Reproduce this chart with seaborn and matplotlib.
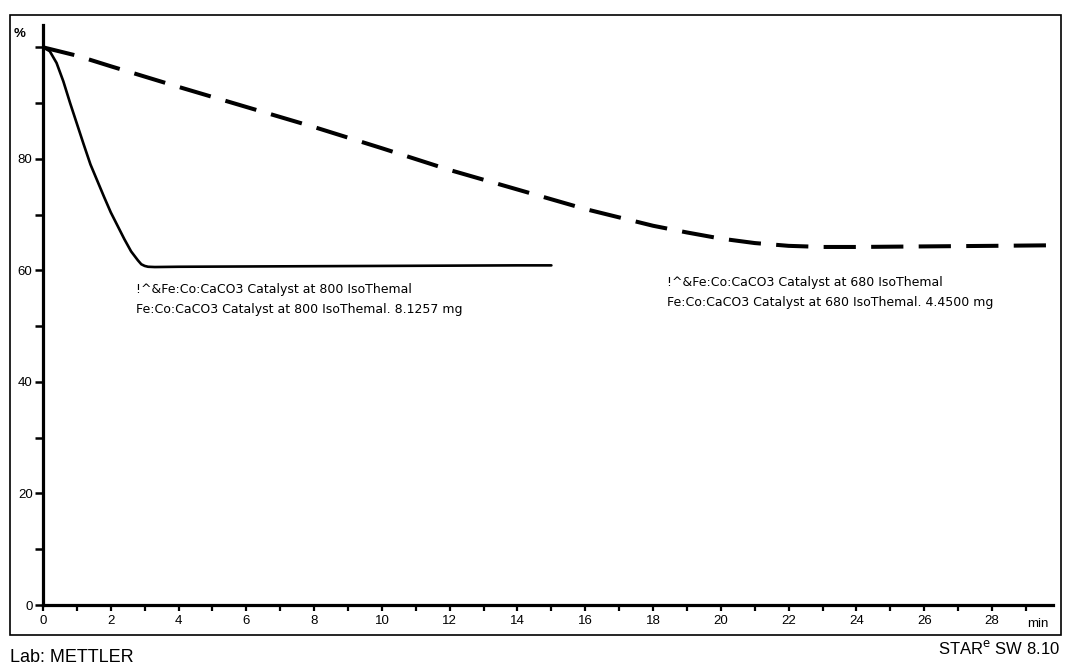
import matplotlib
matplotlib.use("Agg")
import matplotlib.pyplot as plt
from matplotlib.patches import Rectangle
from matplotlib.ticker import MultipleLocator, FixedLocator, NullFormatter
import seaborn as sns
import pandas as pd

# Isothermal TGA runs: sample mass (%) versus time (min)
time_800 = [0.0, 0.2, 0.4, 0.6, 0.8, 1.0, 1.2, 1.4, 1.6, 1.8, 2.0, 2.2, 2.4, 2.6, 2.7, 2.8,
            2.9, 3.0, 3.1, 3.3, 4.0, 6.0, 8.0, 10.0, 12.0, 14.0, 15.0]
mass_800 = [100.0, 99.3, 97.2, 93.9, 90.0, 86.3, 82.6, 79.0, 76.1, 73.2, 70.4, 68.0, 65.6, 63.4,
            62.6, 61.8, 61.1, 60.8, 60.65, 60.6, 60.65, 60.7, 60.75, 60.8, 60.85, 60.9, 60.9]

time_680 = [0.0, 1.0, 2.0, 4.0, 6.0, 8.0, 10.0, 12.0, 14.0, 16.0, 18.0, 19.0, 20.0, 21.0, 22.0,
            23.0, 24.0, 26.0, 28.0, 29.8]
mass_680 = [100.0, 98.5, 96.6, 92.9, 89.3, 85.7, 81.9, 78.0, 74.5, 71.0, 68.0, 66.8, 65.7, 64.9,
            64.4, 64.2, 64.2, 64.3, 64.4, 64.5]

label_800 = ["!^&Fe:Co:CaCO3 Catalyst at 800 IsoThemal",
             "Fe:Co:CaCO3 Catalyst at 800 IsoThemal. 8.1257 mg"]
label_680 = ["!^&Fe:Co:CaCO3 Catalyst at 680 IsoThemal",
             "Fe:Co:CaCO3 Catalyst at 680 IsoThemal. 4.4500 mg"]

x_labels = [str(v) for v in range(0, 29, 2)]
y_labels = ["0", "20", "40", "60", "80", ""]

sns.set_theme(style="ticks")
plt.rcParams["font.family"] = ["Liberation Sans", "DejaVu Sans"]
plt.rcParams["text.color"] = "black"

W, H = 1065, 670
fig = plt.figure(figsize=(W / 100, H / 100), dpi=100)
fig.patch.set_facecolor("white")
ax = fig.add_axes([43 / W, 1 - 605 / H, (1053 - 43) / W, (605 - 25) / H])

df800 = pd.DataFrame({"t": time_800, "m": mass_800})
df680 = pd.DataFrame({"t": time_680, "m": mass_680})
sns.lineplot(data=df800, x="t", y="m", ax=ax, color="black", linewidth=1.9, sort=False)
sns.lineplot(data=df680, x="t", y="m", ax=ax, color="black", linewidth=2.9, sort=False,
             linestyle=(0, (8.0, 3.8)))

ax.set_xlim(0, 29.8)
ax.set_ylim(0, 104)
ax.set_xlabel("")
ax.set_ylabel("")
ax.set_facecolor("white")

for side in ("top", "right"):
    ax.spines[side].set_visible(False)
for side in ("left", "bottom"):
    ax.spines[side].set_linewidth(2.3)
    ax.spines[side].set_color("black")

ax.set_xticks(range(0, 29, 2))
ax.set_xticklabels(x_labels)
ax.xaxis.set_minor_locator(FixedLocator(range(1, 30, 2)))
ax.set_yticks([0, 20, 40, 60, 80, 100])
ax.set_yticklabels(y_labels)
ax.yaxis.set_minor_locator(MultipleLocator(10))
ax.yaxis.set_minor_formatter(NullFormatter())

ax.tick_params(axis="x", which="both", direction="out", length=4.5, width=1.6,
               color="black", labelsize=9.5, pad=3, labelcolor="black")
ax.tick_params(axis="y", which="both", direction="out", length=6, width=1.8,
               color="black", labelsize=9.5, pad=1.5, labelcolor="black")

# unit markers at the axis ends
ax.text(29.35, -0.022, "min", transform=ax.get_xaxis_transform(), ha="center", va="top",
        fontsize=9.5)
fig.text(20 / W, 1 - 34 / H, "%", ha="center", va="center", fontsize=9.5, fontweight="bold")

# curve captions
cap = dict(fontsize=9, family="DejaVu Sans", va="center", ha="left", color="black")
ax.text(2.75, 56.6, label_800[0], **cap)
ax.text(2.75, 53.0, label_800[1], **cap)
ax.text(18.4, 57.8, label_680[0], **cap)
ax.text(18.4, 54.2, label_680[1], **cap)

# outer frame and footer
fig.patches.append(Rectangle((10 / W, 1 - 635 / H), (1061 - 10) / W, (635 - 15) / H,
                             transform=fig.transFigure, fill=False, edgecolor="black",
                             linewidth=1.2))
fig.text(10 / W, 1 - 657 / H, "Lab: METTLER", ha="left", va="center", fontsize=13,
         color="black")
fig.text(1060 / W, 1 - 648 / H, r"STAR$^{\mathrm{e}}$ SW 8.10", ha="right", va="center",
         fontsize=12, color="black")

fig.savefig("out.png", dpi=100, facecolor="white")
